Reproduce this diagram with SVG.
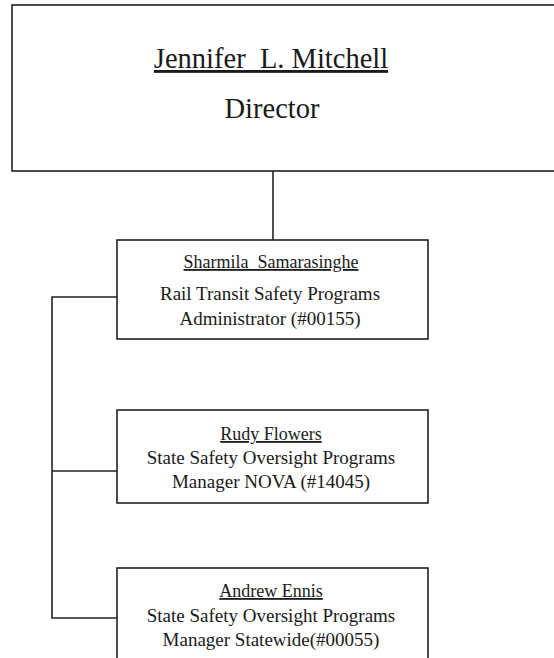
<svg xmlns="http://www.w3.org/2000/svg" width="554" height="658" viewBox="0 0 554 658">
<style>
.box{fill:#fff;stroke:#222;stroke-width:1.6}
.con{fill:none;stroke:#222;stroke-width:1.6}
text{font-family:"Liberation Serif","Times New Roman",serif;fill:#1a1a1a;text-anchor:middle}
.big{font-size:28.5px}
.nm{font-size:18px;text-decoration:underline}
.t{font-size:19px}
</style>
<rect width="554" height="658" fill="#fff"/>
<g id="connectors">
<line class="con" x1="273" y1="171" x2="273" y2="240"/>
<path class="con" d="M117 297 H52 V618 H117"/>
<line class="con" x1="52" y1="471" x2="117" y2="471"/>
</g>
<g id="director">
<rect class="box" x="12" y="5" width="560" height="166"/>
<text class="big" x="271" y="68" text-decoration="underline" xml:space="preserve">Jennifer  L. Mitchell</text>
<text class="big" x="272" y="118">Director</text>
</g>
<g id="samarasinghe">
<rect class="box" x="117" y="240" width="311" height="99"/>
<text class="nm" x="271" y="268" xml:space="preserve">Sharmila  Samarasinghe</text>
<text class="t" x="270" y="300">Rail Transit Safety Programs</text>
<text class="t" x="270" y="325">Administrator (#00155)</text>
</g>
<g id="flowers">
<rect class="box" x="117" y="410" width="311" height="93"/>
<text class="nm" x="271" y="440">Rudy Flowers</text>
<text class="t" x="271" y="464">State Safety Oversight Programs</text>
<text class="t" x="271" y="488">Manager NOVA (#14045)</text>
</g>
<g id="ennis">
<rect class="box" x="117" y="568" width="311" height="110"/>
<text class="nm" x="271" y="597">Andrew Ennis</text>
<text class="t" x="271" y="622">State Safety Oversight Programs</text>
<text class="t" x="271" y="646">Manager Statewide(#00055)</text>
</g>
</svg>
